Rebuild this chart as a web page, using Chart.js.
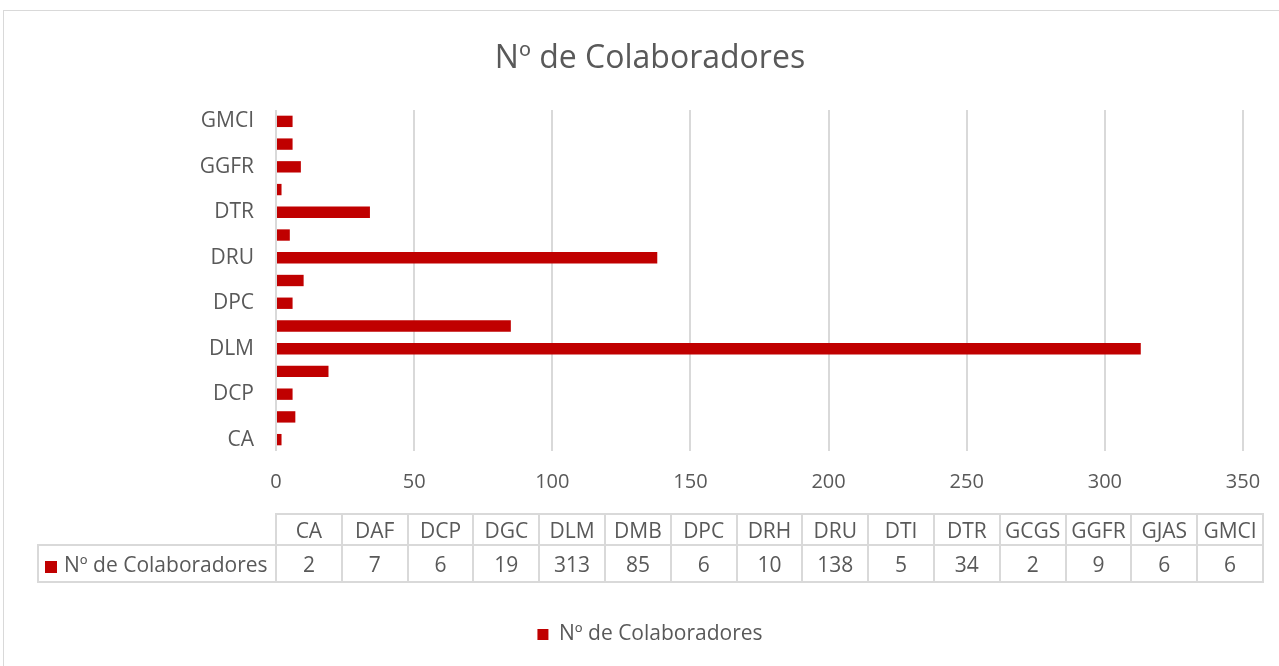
<!DOCTYPE html>
<html>
<head>
<meta charset="utf-8">
<script src="https://cdn.jsdelivr.net/npm/chart.js@4.4.1/dist/chart.umd.min.js"></script>
<style>
  html, body { margin: 0; padding: 0; background: #fff; }
  body { width: 1279px; height: 666px; position: relative; overflow: hidden; font-family: 'Open Sans', sans-serif; }
  #frame { position: absolute; left: 3px; top: 10px; width: 1300px; height: 700px; border: 1px solid #d9d9d9; box-sizing: border-box; }
  #wrap { position: absolute; left: 0; top: 0; width: 1300px; height: 666px; }
  #dataTable { position: absolute; left: 37px; top: 513px; border-collapse: collapse; table-layout: fixed; color: #595959; font-size: 21px; }
  #dataTable td { border: 2px solid #d9d9d9; text-align: center; padding: 0; overflow: hidden; white-space: nowrap; }
  #dataTable tr.head td { height: 29px; }
  #dataTable tr.vals td { height: 35px; }
  #dataTable td.blank { border: none; }
  #dataTable td.series { text-align: left; padding-left: 6px; }
  .swatch { display: inline-block; width: 12px; height: 12px; background: #c00000; margin-right: 7px; vertical-align: -1px; }
</style>
</head>
<body>
<div id="frame"></div>
<div id="wrap"><canvas id="chart" width="1300" height="666"></canvas></div>
<table id="dataTable"></table>
<script>
// Nº de Colaboradores por área
const categories = ['CA', 'DAF', 'DCP', 'DGC', 'DLM', 'DMB', 'DPC', 'DRH', 'DRU', 'DTI', 'DTR', 'GCGS', 'GGFR', 'GJAS', 'GMCI'];
const colaboradores = [2, 7, 6, 19, 313, 85, 6, 10, 138, 5, 34, 2, 9, 6, 6];
const seriesName = 'Nº de Colaboradores';
const xTicks = [0, 50, 100, 150, 200, 250, 300, 350];

const grey = '#595959';
const red = '#c00000';

document.addEventListener('DOMContentLoaded', () => {
    buildTable();
    initChart();
});

function buildTable() {
    const table = document.getElementById('dataTable');
    let head = '<colgroup><col style="width:238px">';
    categories.forEach(() => head += '<col style="width:65.8px">');
    head += '</colgroup>';
    let row1 = '<tr class="head"><td class="blank"></td>';
    categories.forEach(c => row1 += '<td>' + c + '</td>');
    row1 += '</tr>';
    let row2 = '<tr class="vals"><td class="series"><span class="swatch"></span>' + seriesName + '</td>';
    colaboradores.forEach(v => row2 += '<td>' + v + '</td>');
    row2 += '</tr>';
    table.innerHTML = head + row1 + row2;
}

function initChart() {
    const ctx = document.getElementById('chart').getContext('2d');

    new Chart(ctx, {
        type: 'bar',
        data: {
            labels: categories,
            datasets: [{
                label: seriesName,
                data: colaboradores,
                backgroundColor: red,
                barPercentage: 0.5,
                categoryPercentage: 1
            }]
        },
        options: {
            indexAxis: 'y',
            responsive: false,
            animation: false,
            layout: { padding: { left: 0, right: 0, top: 0, bottom: 11 } },
            plugins: {
                title: {
                    display: true,
                    text: seriesName,
                    color: grey,
                    font: { family: 'Open Sans', size: 32, weight: 'normal', lineHeight: 1.2 },
                    padding: { top: 40, bottom: 31.6 }
                },
                legend: {
                    position: 'bottom',
                    labels: {
                        color: grey,
                        font: { family: 'Open Sans', size: 21 },
                        boxWidth: 11,
                        boxHeight: 11,
                        padding: 10
                    }
                },
                tooltip: { enabled: false }
            },
            scales: {
                x: {
                    min: 0,
                    max: 350,
                    afterBuildTicks: axis => { axis.ticks = xTicks.map(v => ({ value: v })); },
                    grid: { color: '#d9d9d9', lineWidth: 2, drawTicks: false },
                    border: { display: false },
                    ticks: { color: grey, font: { family: 'Open Sans', size: 20 }, padding: 19, maxRotation: 0 },
                    afterFit: axis => { axis.height = 163; axis.paddingRight = 57; }
                },
                y: {
                    reverse: true,
                    grid: { display: false, drawTicks: false },
                    border: { display: false },
                    ticks: {
                        color: grey,
                        font: { family: 'Open Sans', size: 21 },
                        padding: 22,
                        autoSkip: false,
                        callback: function (val, i) { return i % 2 === 0 ? categories[i] : ''; }
                    },
                    afterFit: axis => { axis.width = 276; }
                }
            }
        }
    });
}
</script>
</body>
</html>
